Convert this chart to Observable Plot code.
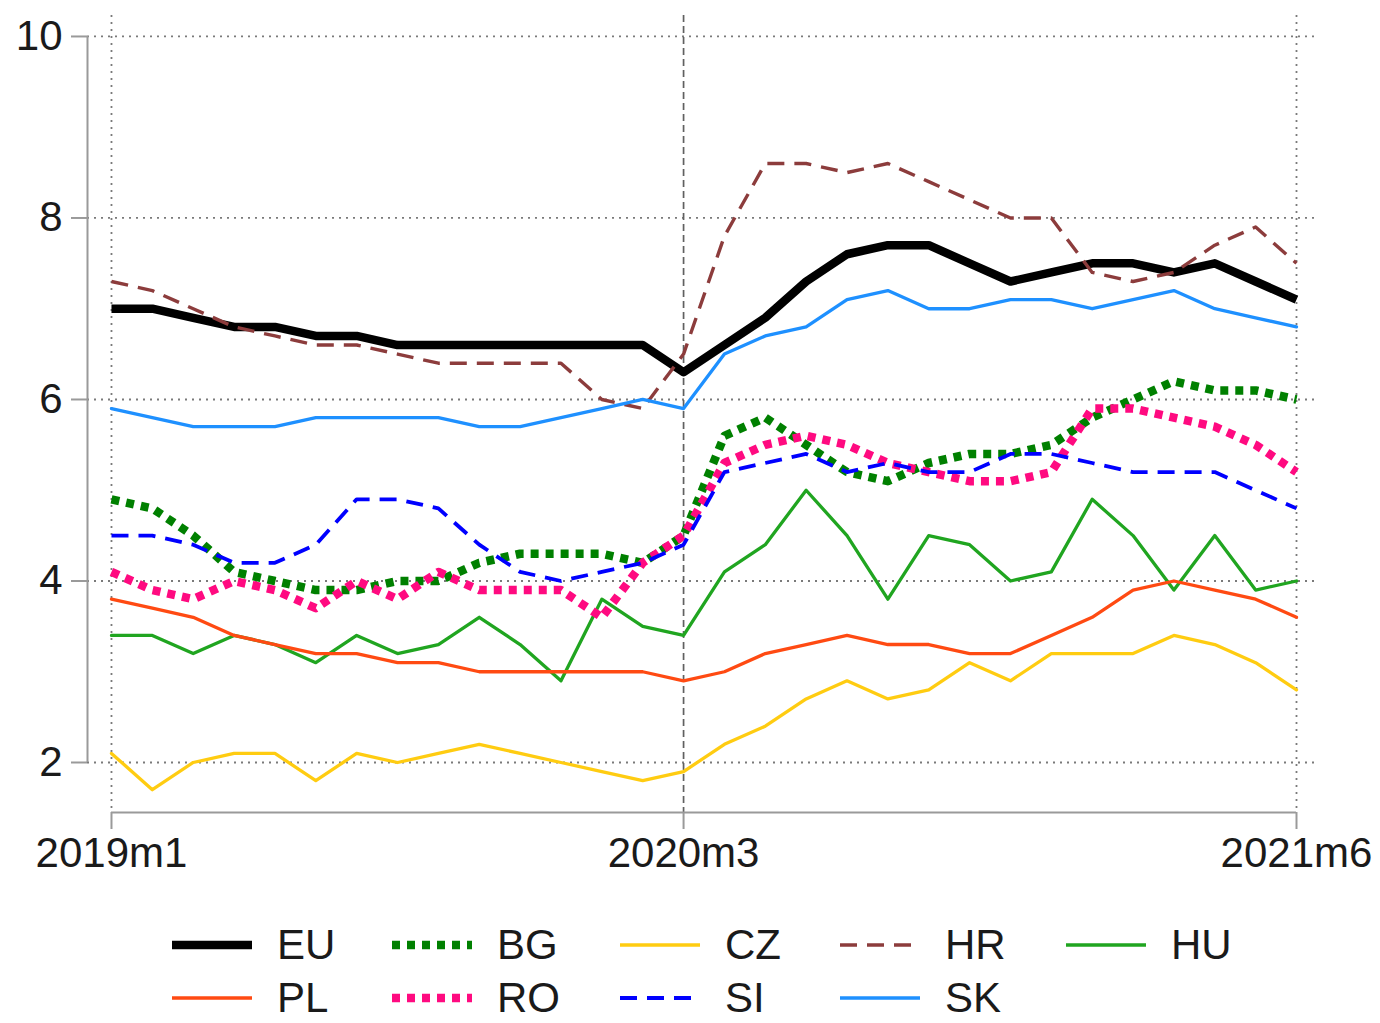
<!DOCTYPE html>
<html><head><meta charset="utf-8">
<script src="https://cdn.jsdelivr.net/npm/d3@7"></script>
<script src="https://cdn.jsdelivr.net/npm/@observablehq/plot@0.6"></script>
<style>
body{margin:0;background:#fff;font-family:"Liberation Sans",Arial,Helvetica,sans-serif;overflow:hidden;}
#wrap{position:relative;width:1380px;height:1023px;background:#fff;}
.leg{position:absolute;display:flex;align-items:center;height:36px;font-size:42px;line-height:36px;color:#1a1a1a;}
.leg svg{margin-right:25px;display:block;}
</style></head><body><div id="wrap"></div>
<script>
// ---- data ----
const periods = ["2019m1","2019m2","2019m3","2019m4","2019m5","2019m6","2019m7","2019m8","2019m9","2019m10","2019m11","2019m12",
  "2020m1","2020m2","2020m3","2020m4","2020m5","2020m6","2020m7","2020m8","2020m9","2020m10","2020m11","2020m12",
  "2021m1","2021m2","2021m3","2021m4","2021m5","2021m6"];
const EU = [7.0,7.0,6.9,6.8,6.8,6.7,6.7,6.6,6.6,6.6,6.6,6.6,6.6,6.6,6.3,6.6,6.9,7.3,7.6,7.7,7.7,7.5,7.3,7.4,7.5,7.5,7.4,7.5,7.3,7.1];
const BG = [4.9,4.8,4.5,4.1,4.0,3.9,3.9,4.0,4.0,4.2,4.3,4.3,4.3,4.2,4.5,5.6,5.8,5.5,5.2,5.1,5.3,5.4,5.4,5.5,5.8,6.0,6.2,6.1,6.1,6.0];
const CZ = [2.1,1.7,2.0,2.1,2.1,1.8,2.1,2.0,2.1,2.2,2.1,2.0,1.9,1.8,1.9,2.2,2.4,2.7,2.9,2.7,2.8,3.1,2.9,3.2,3.2,3.2,3.4,3.3,3.1,2.8];
const HR = [7.3,7.2,7.0,6.8,6.7,6.6,6.6,6.5,6.4,6.4,6.4,6.4,6.0,5.9,6.5,7.8,8.6,8.6,8.5,8.6,8.4,8.2,8.0,8.0,7.4,7.3,7.4,7.7,7.9,7.5];
const HU = [3.4,3.4,3.2,3.4,3.3,3.1,3.4,3.2,3.3,3.6,3.3,2.9,3.8,3.5,3.4,4.1,4.4,5.0,4.5,3.8,4.5,4.4,4.0,4.1,4.9,4.5,3.9,4.5,3.9,4.0];
const PL = [3.8,3.7,3.6,3.4,3.3,3.2,3.2,3.1,3.1,3.0,3.0,3.0,3.0,3.0,2.9,3.0,3.2,3.3,3.4,3.3,3.3,3.2,3.2,3.4,3.6,3.9,4.0,3.9,3.8,3.6];
const RO = [4.1,3.9,3.8,4.0,3.9,3.7,4.0,3.8,4.1,3.9,3.9,3.9,3.6,4.2,4.5,5.3,5.5,5.6,5.5,5.3,5.2,5.1,5.1,5.2,5.9,5.9,5.8,5.7,5.5,5.2];
const SI = [4.5,4.5,4.4,4.2,4.2,4.4,4.9,4.9,4.8,4.4,4.1,4.0,4.1,4.2,4.4,5.2,5.3,5.4,5.2,5.3,5.2,5.2,5.4,5.4,5.3,5.2,5.2,5.2,5.0,4.8];
const SK = [5.9,5.8,5.7,5.7,5.7,5.8,5.8,5.8,5.8,5.7,5.7,5.8,5.9,6.0,5.9,6.5,6.7,6.8,7.1,7.2,7.0,7.0,7.1,7.1,7.0,7.1,7.2,7.0,6.9,6.8];
const seriesNames = ["EU","BG","CZ","HR","HU","PL","RO","SI","SK"];
const seriesValues = [EU,BG,CZ,HR,HU,PL,RO,SI,SK];
const yTicks = [2,4,6,8,10];
const xTickLabels = ["2019m1","2020m3","2021m6"];
const markerPeriod = "2020m3";

// ---- styles ----
const styles = {
  EU:{stroke:"#000000", w:8.5, dash:null, cap:"butt"},
  BG:{stroke:"#008000", w:8.5, dash:"8,7", cap:"butt"},
  CZ:{stroke:"#ffcc11", w:3.3, dash:null, cap:"round"},
  HR:{stroke:"#8c3c3c", w:3.4, dash:"17,10", cap:"butt"},
  HU:{stroke:"#20a520", w:3.3, dash:null, cap:"round"},
  PL:{stroke:"#ff4a12", w:3.3, dash:null, cap:"round"},
  RO:{stroke:"#ff0a80", w:8.5, dash:"8,7", cap:"butt"},
  SI:{stroke:"#0000ff", w:3.8, dash:"17,10", cap:"butt"},
  SK:{stroke:"#1e90ff", w:3.3, dash:null, cap:"round"}
};

const rows = [];
seriesNames.forEach((s, k) => seriesValues[k].forEach((v, i) => rows.push({series:s, idx:i, period:periods[i], value:v})));
const idxOf = p => periods.indexOf(p);
const last = periods.length - 1;
const xDomain = [-0.587, last + 0.465];
const yDomain = [1.449, 10.231];
const grid = "#7a7a7a";
const axisCol = "#9a9a9a";

const lineMarks = seriesNames.map(s => Plot.line(rows.filter(d => d.series === s), {
  x:"idx", y:"value", stroke: styles[s].stroke, strokeWidth: styles[s].w,
  strokeDasharray: styles[s].dash || undefined, strokeLinecap: styles[s].cap, strokeLinejoin:"round"
}));

const chart = Plot.plot({
  width:1380, height:880,
  marginLeft:87, marginRight:65, marginTop:15, marginBottom:68,
  x:{domain:xDomain},
  y:{domain:yDomain},
  style:{fontFamily:"'Liberation Sans', Arial, sans-serif", fontSize:"42px", color:"#1a1a1a", background:"#fff"},
  marks:[
    Plot.ruleY(yTicks, {stroke:grid, strokeWidth:1.8, strokeDasharray:"2,5"}),
    Plot.ruleX([0, last], {stroke:grid, strokeWidth:1.8, strokeDasharray:"2,5"}),
    Plot.ruleX([idxOf(markerPeriod)], {stroke:"#606060", strokeWidth:1.7, strokeDasharray:"7,4"}),
    Plot.ruleX([xDomain[0]], {y1:yTicks[0], y2:yTicks[yTicks.length-1], stroke:axisCol, strokeWidth:2}),
    Plot.ruleY([yDomain[0]], {x1:0, x2:last, stroke:axisCol, strokeWidth:2}),
    Plot.axisY({ticks:yTicks, tickSize:16, tickPadding:9, stroke:axisCol, strokeWidth:2, fill:"#1a1a1a", fontSize:42, label:null}),
    Plot.axisX({ticks:xTickLabels.map(idxOf), tickFormat:i => periods[i], tickSize:17, tickPadding:8, stroke:axisCol, strokeWidth:2, fill:"#1a1a1a", fontSize:42, label:null}),
    ...lineMarks
  ]
});
const wrap = document.getElementById("wrap");
wrap.appendChild(chart);

// ---- legend ----
const colX = [172, 392, 620, 840, 1066];
const rowY = [945, 998];
seriesNames.forEach((s, k) => {
  const st = styles[s];
  const div = document.createElement("div");
  div.className = "leg";
  div.style.left = colX[k % 5] + "px";
  div.style.top = (rowY[Math.floor(k / 5)] - 18) + "px";
  div.innerHTML = `<svg width="80" height="20"><line x1="0" x2="80" y1="10" y2="10" stroke="${st.stroke}" stroke-width="${st.w}" ${st.dash ? `stroke-dasharray="${st.dash}"` : ""} stroke-linecap="butt"/></svg><span>${s}</span>`;
  wrap.appendChild(div);
});
</script></body></html>
